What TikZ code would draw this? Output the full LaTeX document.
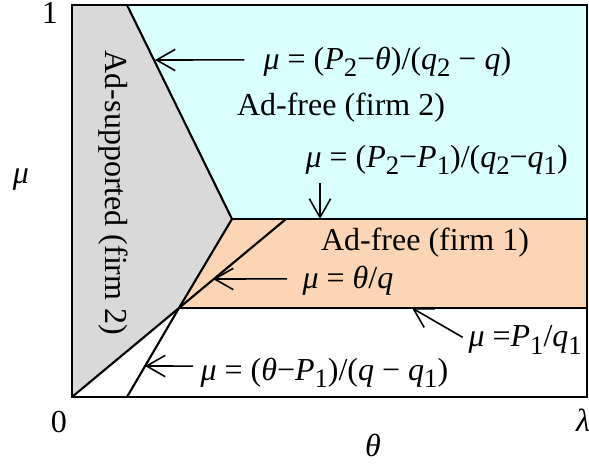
\documentclass[12pt,tikz,border=0pt]{standalone}
\usepackage{fontspec}
\setmainfont{Liberation Serif}
\usetikzlibrary{arrows.meta}
\definecolor{adfreetwo}{HTML}{D9FFFF}
\definecolor{adfreeone}{HTML}{FCD5B5}
\definecolor{adsupp}{HTML}{D9D9D9}
\newcommand\vv[1]{\textit{#1}}
\newcommand\sub[1]{\raisebox{-0.5ex}{\footnotesize #1}}

\begin{document}
\begin{tikzpicture}[x=0.375pt,y=0.375pt,
  border/.style={line width=0.8pt},
  pointer/.style={line width=0.6pt,-{Straight Barb[length=7pt,width=8pt]}},
  eqn/.style={anchor=west,inner sep=0pt}]
  \useasboundingbox (-72,-66) rectangle (517,397);
  \coordinate (O) at (0,0);
  \coordinate (TL) at (0,392);
  \coordinate (TR) at (515,392);
  \coordinate (A) at (55,392);
  \coordinate (B) at (160,178);
  \coordinate (C) at (107,89);
  \coordinate (D) at (214,178);
  \coordinate (E) at (55,0);
  \coordinate (F) at (515,178);
  \coordinate (G) at (515,89);
  % regions
  \fill[adsupp] (O) -- (TL) -- (A) -- (B) -- (C) -- cycle;
  \fill[adfreetwo] (A) -- (TR) -- (F) -- (B) -- cycle;
  \fill[adfreeone] (B) -- (F) -- (G) -- (C) -- cycle;
  % boundaries
  \draw[border] (A) -- (B) -- (C) -- (O);
  \draw[border] (B) -- (F);
  \draw[border] (C) -- (G);
  \draw[border] (C) -- (D);
  \draw[border] (E) -- (C);
  \draw[border] (O) rectangle (TR);
  % axes
  \node (one) at (-22,384) {1};
  \node (zero) at (-13,-25) {0};
  \node (mu) at (-51,217) {\vv{μ}};
  \node (theta) at (301,-48) {\vv{θ}};
  \node (lambda) at (511,-23) {\vv{λ}};
  % regions' names
  \node[rotate=-90] (adsup) at (41,204) {Ad-supported (firm 2)};
  \node (adfree2) at (269,289) {Ad-free (firm 2)};
  \node (adfree1) at (353,154) {Ad-free (firm 1)};
  % boundary labels
  \node[eqn] (eqa) at (191,335) {\vv{μ} = (\vv{P}\sub{2}−\vv{θ})/(\vv{q}\sub{2} − \vv{q})};
  \coordinate (Ta) at (83,337);
  \draw[pointer] ([xshift=-7pt,yshift=0.8pt]eqa.west) -- (Ta);
  \node[eqn] (eqb) at (233,237) {\vv{μ} = (\vv{P}\sub{2}−\vv{P}\sub{1})/(\vv{q}\sub{2}−\vv{q}\sub{1})};
  \coordinate (Tb) at (248,178);
  \draw[pointer] ([yshift=-3pt]eqb.south -| Tb) -- (Tb);
  \node[eqn] (eqc) at (230,116) {\vv{μ} = \vv{θ}/\vv{q}};
  \coordinate (Tc) at (141,118);
  \draw[pointer] ([xshift=-5.6pt,yshift=0.8pt]eqc.west) -- (Tc);
  \node[eqn] (eqd) at (396,57) {\vv{μ} =\vv{P}\sub{1}/\vv{q}\sub{1}};
  \coordinate (Td) at (340,89);
  \draw[pointer] ([xshift=-2pt,yshift=1pt]eqd.west) -- (Td);
  \node[eqn] (eqe) at (128,24) {\vv{μ} = (\vv{θ}−\vv{P}\sub{1})/(\vv{q} − \vv{q}\sub{1})};
  \coordinate (Te) at (73,31);
  \draw[pointer] ([xshift=-2.6pt,yshift=2.6pt]eqe.west) -- (Te);
\end{tikzpicture}
\end{document}
